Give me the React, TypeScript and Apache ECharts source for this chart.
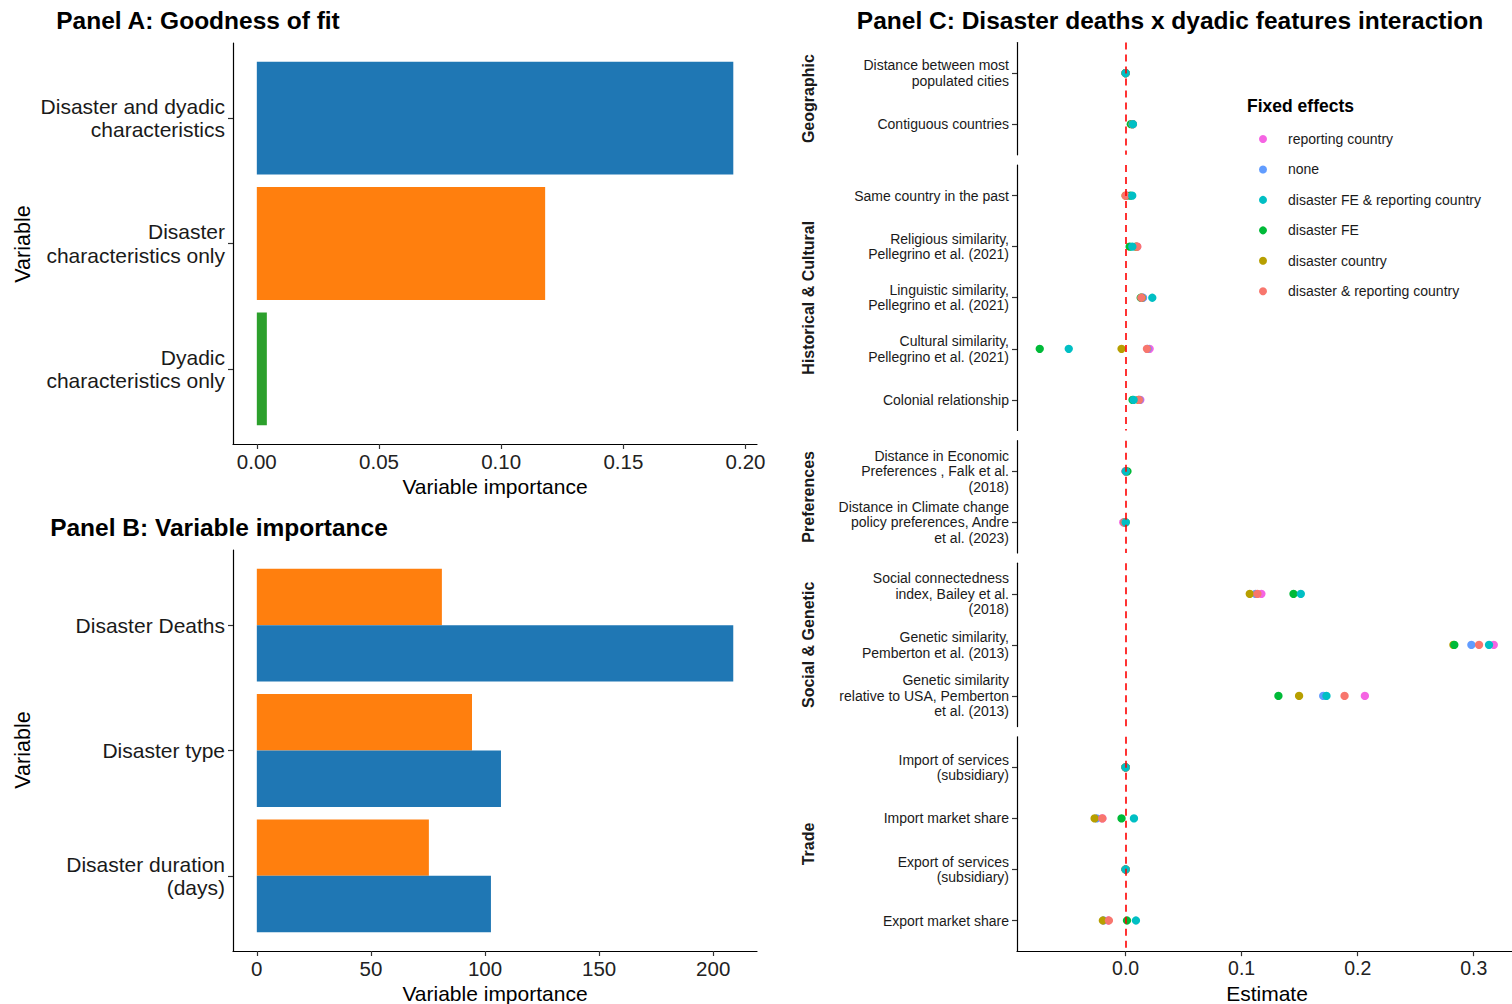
import React, { useEffect, useRef } from 'react';
import * as echarts from 'echarts';

const FONT = '"Liberation Sans", Arial, Helvetica, sans-serif';
const INK = '#1A1A1A';

// Panel A
const fitCategories = ['Disaster and dyadic\ncharacteristics', 'Disaster\ncharacteristics only', 'Dyadic\ncharacteristics only'];
const fitValues = [0.195, 0.118, 0.0041];
const fitColors = ['#1F77B4', '#FF7F0E', '#2CA02C'];
const fitTicks = [0, 0.05, 0.1, 0.15, 0.2];

// Panel B
const impCategories = ['Disaster Deaths', 'Disaster type', 'Disaster duration\n(days)'];
const impOrange = [81.1, 94.3, 75.4];
const impBlue = [208.8, 107.0, 102.6];
const impTicks = [0, 50, 100, 150, 200];

// Panel C
const features = [
  'Distance between most\npopulated cities',
  'Contiguous countries',
  'Same country in the past',
  'Religious similarity,\nPellegrino et al. (2021)',
  'Linguistic similarity,\nPellegrino et al. (2021)',
  'Cultural similarity,\nPellegrino et al. (2021)',
  'Colonial relationship',
  'Distance in Economic\nPreferences , Falk et al.\n(2018)',
  'Distance in Climate change\npolicy preferences, Andre\net al. (2023)',
  'Social connectedness\nindex, Bailey et al.\n(2018)',
  'Genetic similarity,\nPemberton et al. (2013)',
  'Genetic similarity\nrelative to USA, Pemberton\net al. (2013)',
  'Import of services\n(subsidiary)',
  'Import market share',
  'Export of services\n(subsidiary)',
  'Export market share',
];
const facetNames = ['Geographic', 'Historical & Cultural', 'Preferences', 'Social & Genetic', 'Trade'];
const facetRows = [[0, 1], [2, 3, 4, 5, 6], [7, 8], [9, 10, 11], [12, 13, 14, 15]];
const estTicks = [0, 0.1, 0.2, 0.3];

const feLegendOrder = ['reporting country', 'none', 'disaster FE & reporting country', 'disaster FE', 'disaster country', 'disaster & reporting country'];
const feColors: Record<string, string> = {
  'reporting country': '#F564E3',
  'none': '#619CFF',
  'disaster FE & reporting country': '#00BFC4',
  'disaster FE': '#00BA38',
  'disaster country': '#B79F00',
  'disaster & reporting country': '#F8766D',
};
const estReporting = [0, 0.006, 0.001, 0.010, 0.015, 0.0207, 0.0127, 0.0, -0.002, 0.117, 0.3173, 0.2062, 0, -0.020, 0, -0.015];
const estNone = [0, 0.006, 0.001, 0.009, 0.015, 0.019, 0.012, 0.0, -0.001, 0.112, 0.298, 0.1703, 0, -0.025, 0, -0.019];
const estDisFERep = [0, 0.0063, 0.0057, 0.0058, 0.023, -0.049, 0.0069, 0.0002, 0.0, 0.151, 0.3132, 0.1731, 0, 0.0072, 0, 0.0089];
const estDisFE = [0, 0.0045, 0.004, 0.0035, 0.013, -0.074, 0.006, 0.0016, 0.0, 0.1447, 0.2833, 0.1317, 0, -0.0035, 0, 0.0012];
const estDisCountry = [0, 0.006, 0.0, 0.009, 0.014, -0.0035, 0.011, 0.0005, -0.001, 0.107, 0.2825, 0.1495, 0, -0.0267, 0, -0.0196];
const estDisRep = [0, 0.006, 0.0, 0.010, 0.0135, 0.0184, 0.0115, 0.0, -0.001, 0.1136, 0.3046, 0.1887, 0, -0.0201, 0, -0.0144];

// drawing order bottom -> top
const drawOrder: [string, number[]][] = [
  ['reporting country', estReporting],
  ['none', estNone],
  ['disaster country', estDisCountry],
  ['disaster FE', estDisFE],
  ['disaster & reporting country', estDisRep],
  ['disaster FE & reporting country', estDisFERep],
];

export default function App() {
  const ref = useRef<HTMLDivElement>(null);
  useEffect(() => {
    if (!ref.current) return;
    const chart = echarts.init(ref.current, undefined, { renderer: 'svg' });

    const axisLine = { show: true, onZero: false, lineStyle: { color: '#000', width: 1.2 } };
    const axisTick = (vals: number[]) => ({ show: true, length: 5, customValues: vals, lineStyle: { color: '#333', width: 1.2 } });

    // Panel C facet grid geometry
    const unit = 51.05;
    const gap = 10.2;
    let top = 42.5;
    const facetGeo = facetRows.map((rows) => {
      const h = (rows.length + 0.2) * unit;
      const g = { top, height: h };
      top += h + gap;
      return g;
    });

    const grids: any[] = [
      { left: 233, top: 43, width: 524, height: 401 },
      { left: 233, top: 550, width: 524, height: 401 },
      ...facetGeo.map((g) => ({ left: 1017, top: g.top, width: 495, height: g.height })),
    ];

    const xAxes: any[] = [
      {
        gridIndex: 0, type: 'value', min: -0.00975, max: 0.2047, splitLine: { show: false },
        axisLine, axisTick: axisTick(fitTicks),
        axisLabel: { customValues: fitTicks, formatter: (v: number) => v.toFixed(2), fontSize: 20.5, color: '#222', fontFamily: FONT, margin: 7 },
      },
      {
        gridIndex: 1, type: 'value', min: -10.44, max: 219.2, splitLine: { show: false },
        axisLine, axisTick: axisTick(impTicks),
        axisLabel: { customValues: impTicks, formatter: (v: number) => String(v), fontSize: 20.5, color: '#222', fontFamily: FONT, margin: 7 },
      },
      ...facetRows.map((rows, i) => {
        const last = i === facetRows.length - 1;
        return {
          gridIndex: i + 2, type: 'value', min: -0.0936, max: 0.333, show: last, splitLine: { show: false },
          axisLine, axisTick: axisTick(estTicks),
          axisLabel: { customValues: estTicks, formatter: (v: number) => v.toFixed(1), fontSize: 19.5, color: '#222', fontFamily: FONT, margin: 7 },
        };
      }),
    ];

    const yAxes: any[] = [
      {
        gridIndex: 0, type: 'value', min: 0.4, max: 3.6, inverse: true, splitLine: { show: false },
        axisLine, axisTick: axisTick([1, 2, 3]),
        axisLabel: { customValues: [1, 2, 3], formatter: (v: number) => fitCategories[Math.round(v) - 1], fontSize: 21, lineHeight: 23.5, color: INK, fontFamily: FONT, margin: 8, align: 'right' },
      },
      {
        gridIndex: 1, type: 'value', min: 0.4, max: 3.6, inverse: true, splitLine: { show: false },
        axisLine, axisTick: axisTick([1, 2, 3]),
        axisLabel: { customValues: [1, 2, 3], formatter: (v: number) => impCategories[Math.round(v) - 1], fontSize: 21, lineHeight: 23.5, color: INK, fontFamily: FONT, margin: 8, align: 'right' },
      },
      ...facetRows.map((rows, i) => {
        const vals = rows.map((_, j) => j + 1);
        return {
          gridIndex: i + 2, type: 'value', min: 0.4, max: rows.length + 0.6, inverse: true, splitLine: { show: false },
          axisLine, axisTick: axisTick(vals),
          axisLabel: { customValues: vals, formatter: (v: number) => features[rows[Math.round(v) - 1]], fontSize: 14, lineHeight: 15.5, color: INK, fontFamily: FONT, margin: 8, align: 'right' },
        };
      }),
    ];

    const barRender = (lo: number, hi: number) => (params: any, api: any) => {
      const v = api.value(0);
      const c = api.value(1);
      const p0 = api.coord([0, c + lo]);
      const p1 = api.coord([v, c + hi]);
      return {
        type: 'rect',
        shape: { x: Math.min(p0[0], p1[0]), y: Math.min(p0[1], p1[1]), width: Math.abs(p1[0] - p0[0]), height: Math.abs(p1[1] - p0[1]) },
        style: { fill: api.visual('color') },
      };
    };

    const series: any[] = [
      {
        type: 'custom', name: 'fit', xAxisIndex: 0, yAxisIndex: 0, encode: { x: 0, y: 1 },
        renderItem: barRender(-0.45, 0.45),
        data: fitValues.map((v, i) => ({ value: [v, i + 1], itemStyle: { color: fitColors[i] } })),
      },
      {
        type: 'custom', name: 'impOrange', xAxisIndex: 1, yAxisIndex: 1, encode: { x: 0, y: 1 },
        itemStyle: { color: '#FF7F0E' },
        renderItem: barRender(-0.45, 0),
        data: impOrange.map((v, i) => [v, i + 1]),
      },
      {
        type: 'custom', name: 'impBlue', xAxisIndex: 1, yAxisIndex: 1, encode: { x: 0, y: 1 },
        itemStyle: { color: '#1F77B4' },
        renderItem: barRender(0, 0.45),
        data: impBlue.map((v, i) => [v, i + 1]),
      },
    ];

    facetRows.forEach((rows, fi) => {
      drawOrder.forEach(([name, vals]) => {
        series.push({
          type: 'scatter', name, xAxisIndex: fi + 2, yAxisIndex: fi + 2,
          symbol: 'circle', symbolSize: 8.3,
          itemStyle: { color: feColors[name], opacity: 1 },
          data: rows.map((r, j) => [vals[r], j + 1]),
          z: 2,
        });
      });
      series.push({
        type: 'scatter', name: 'vline' + fi, xAxisIndex: fi + 2, yAxisIndex: fi + 2, data: [], z: 5,
        markLine: {
          silent: true, symbol: 'none', label: { show: false }, z: 5,
          lineStyle: { color: '#FF0000', type: [7, 5], width: 1.6 },
          data: [{ xAxis: 0 }],
        },
      });
    });

    const graphics: any[] = [
      { type: 'text', x: 198, y: 20, style: { text: 'Panel A: Goodness of fit', font: `bold 24.5px ${FONT}`, fill: '#000', textAlign: 'center', textVerticalAlign: 'middle' } },
      { type: 'text', x: 219, y: 527, style: { text: 'Panel B: Variable importance', font: `bold 24.5px ${FONT}`, fill: '#000', textAlign: 'center', textVerticalAlign: 'middle' } },
      { type: 'text', x: 1170, y: 20, style: { text: 'Panel C: Disaster deaths x dyadic features interaction', font: `bold 24.5px ${FONT}`, fill: '#000', textAlign: 'center', textVerticalAlign: 'middle' } },
      { type: 'text', x: 495, y: 486, style: { text: 'Variable importance', font: `21px ${FONT}`, fill: '#000', textAlign: 'center', textVerticalAlign: 'middle' } },
      { type: 'text', x: 495, y: 993, style: { text: 'Variable importance', font: `21px ${FONT}`, fill: '#000', textAlign: 'center', textVerticalAlign: 'middle' } },
      { type: 'text', x: 1267, y: 993, style: { text: 'Estimate', font: `21px ${FONT}`, fill: '#000', textAlign: 'center', textVerticalAlign: 'middle' } },
      { type: 'text', x: 23, y: 244, rotation: Math.PI / 2, style: { text: 'Variable', font: `21.5px ${FONT}`, fill: '#000', textAlign: 'center', textVerticalAlign: 'middle' } },
      { type: 'text', x: 23, y: 750, rotation: Math.PI / 2, style: { text: 'Variable', font: `21.5px ${FONT}`, fill: '#000', textAlign: 'center', textVerticalAlign: 'middle' } },
      { type: 'text', x: 1247, y: 106, style: { text: 'Fixed effects', font: `bold 17.5px ${FONT}`, fill: '#000', textAlign: 'left', textVerticalAlign: 'middle' } },
      ...facetNames.map((n, i) => ({
        type: 'text', x: 808, y: facetGeo[i].top + facetGeo[i].height / 2, rotation: Math.PI / 2,
        style: { text: n, font: `bold 16px ${FONT}`, fill: INK, textAlign: 'center', textVerticalAlign: 'middle' },
      })),
    ];

    chart.setOption({
      animation: false,
      backgroundColor: '#fff',
      textStyle: { fontFamily: FONT },
      grid: grids,
      xAxis: xAxes,
      yAxis: yAxes,
      series,
      legend: {
        data: feLegendOrder,
        orient: 'vertical', left: 1254, top: 126,
        icon: 'circle', itemWidth: 40, itemHeight: 8, itemGap: 14.45,
        textStyle: { fontSize: 14, lineHeight: 16, color: INK, fontFamily: FONT },
        selectedMode: false,
      },
      graphic: graphics,
    });
    return () => chart.dispose();
  }, []);
  return <div ref={ref} style={{ position: 'fixed', left: 0, top: 0, width: 1512, height: 1004 }} />;
}
